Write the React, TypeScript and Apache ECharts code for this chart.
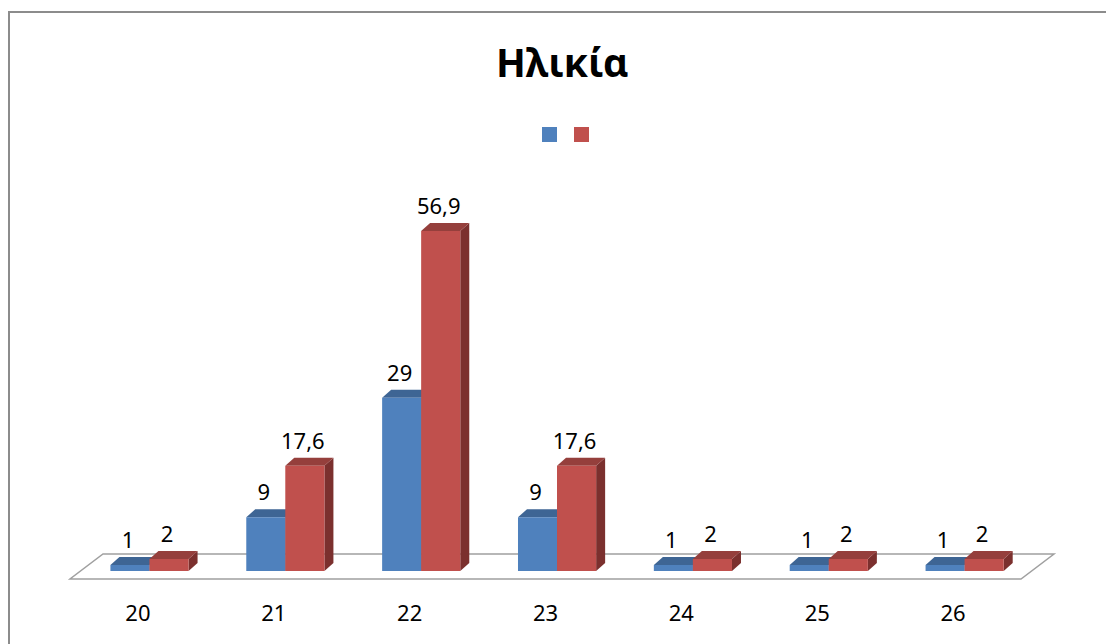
import React, { useEffect, useRef } from 'react';
import * as echarts from 'echarts';

const categories = ['20', '21', '22', '23', '24', '25', '26'];
const seriesA = [1, 9, 29, 9, 1, 1, 1];
const seriesB = [2, 17.6, 56.9, 17.6, 2, 2, 2];
const seriesNames = ['Σειρά 1', 'Σειρά 2'];
const titleText = 'Ηλικία';
const yMax = 60;

const FONT = '"Noto Sans", "Open Sans", sans-serif';

const BLUE = { front: '#4F81BD', top: '#3E6594', side: '#385D8A' };
const RED = { front: '#C0504D', top: '#953F3C', side: '#7B302E' };

function fmt(v: number): string {
  return String(v).replace('.', ',');
}

function makeBarRender(offsetFrac: number, c: { front: string; top: string; side: string }) {
  return (params: any, api: any) => {
    const i = api.value(0);
    const v = api.value(1);
    const p0 = api.coord([i, 0]);
    const p1 = api.coord([i, v]);
    const cx = p0[0];
    const y0 = p0[1];
    const yt = p1[1];
    const bw = api.size([1, 0])[0];
    const w = bw * 0.288;
    const x1 = cx + bw * offsetFrac;
    const x2 = x1 + w;
    const dx = 9;
    const dy = -8;
    return {
      type: 'group',
      children: [
        {
          type: 'polygon',
          shape: { points: [[x2, yt], [x2 + dx, yt + dy], [x2 + dx, y0 + dy], [x2, y0]] },
          style: { fill: c.side },
        },
        {
          type: 'polygon',
          shape: { points: [[x1, yt], [x1 + dx, yt + dy], [x2 + dx, yt + dy], [x2, yt]] },
          style: { fill: c.top },
        },
        {
          type: 'rect',
          shape: { x: x1, y: yt, width: w, height: y0 - yt },
          style: { fill: c.front },
        },
        {
          type: 'text',
          x: (x1 + x2) / 2 - 2,
          y: yt - 26,
          style: {
            text: fmt(v),
            fontSize: 22,
            fontFamily: FONT,
            fill: '#000',
            align: 'center',
            verticalAlign: 'middle',
          },
        },
      ],
    };
  };
}

function floorRender(params: any, api: any) {
  const cs = params.coordSys;
  const y0 = cs.y + cs.height;
  const xl = cs.x;
  const xr = cs.x + cs.width;
  return {
    type: 'polygon',
    shape: {
      points: [
        [xl, y0 + 8],
        [xr, y0 + 8],
        [xr + 33, y0 - 17],
        [xl + 33, y0 - 17],
      ],
    },
    style: { fill: '#ffffff', stroke: '#a0a0a0', lineWidth: 1.5 },
  };
}

export default function App() {
  const ref = useRef<HTMLDivElement>(null);
  useEffect(() => {
    if (!ref.current) return;
    const chart = echarts.init(ref.current, null, { renderer: 'svg' });
    chart.setOption({
      animation: false,
      color: [BLUE.front, RED.front],
      title: {
        text: titleText,
        left: 496,
        top: 42,
        padding: 0,
        textStyle: { fontFamily: FONT, fontSize: 39, fontWeight: 'bold', color: '#000' },
      },
      legend: {
        data: seriesNames,
        left: 542,
        top: 127,
        padding: 0,
        icon: 'rect',
        itemWidth: 15,
        itemHeight: 15,
        itemGap: 17,
        formatter: () => '',
      },
      graphic: [
        {
          type: 'rect',
          shape: { x: 9, y: 12, width: 1200, height: 700 },
          style: { fill: 'none', stroke: '#8c8c8c', lineWidth: 2 },
          silent: true,
        },
      ],
      grid: { left: 70, right: 85, top: 212.5, bottom: 73 },
      xAxis: {
        type: 'category',
        data: categories,
        axisLine: { show: false },
        axisTick: { show: false },
        axisLabel: { fontSize: 22, fontFamily: FONT, color: '#000', margin: 30 },
      },
      yAxis: {
        type: 'value',
        min: 0,
        max: yMax,
        show: false,
        splitLine: { show: false },
      },
      series: [
        {
          type: 'custom',
          name: 'floor',
          z: 1,
          renderItem: floorRender,
          data: [[0, 0]],
          encode: { x: 0, y: 1 },
          silent: true,
        },
        {
          type: 'custom',
          name: seriesNames[0],
          z: 2,
          itemStyle: { color: BLUE.front },
          renderItem: makeBarRender(-0.2025, BLUE),
          data: seriesA.map((v, i) => [i, v]),
          encode: { x: 0, y: 1 },
        },
        {
          type: 'custom',
          name: seriesNames[1],
          z: 3,
          itemStyle: { color: RED.front },
          renderItem: makeBarRender(0.0847, RED),
          data: seriesB.map((v, i) => [i, v]),
          encode: { x: 0, y: 1 },
        },
      ],
    });
    return () => chart.dispose();
  }, []);
  return (
    <div
      ref={ref}
      style={{ position: 'fixed', left: 0, top: 0, width: 1106, height: 644, background: '#fff' }}
    />
  );
}
